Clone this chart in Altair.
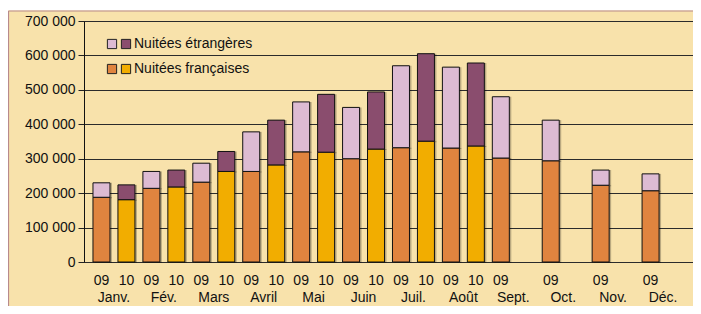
import altair as alt
import pandas as pd

months = ["Janv.", "Fév.", "Mars", "Avril", "Mai", "Juin", "Juil.", "Août",
          "Sept.", "Oct.", "Nov.", "Déc."]
fr_2009 = [188000, 214000, 232000, 263000, 320000, 300000, 332000, 331000,
           302000, 294000, 223000, 207000]
et_2009 = [42000, 49000, 55000, 115000, 145000, 149000, 238000, 235000,
           178000, 118000, 44000, 49000]
fr_2010 = [181000, 218000, 263000, 282000, 319000, 328000, 351000, 337000]
et_2010 = [43000, 49000, 58000, 130000, 168000, 166000, 254000, 241000]
y_ticks = [0, 100000, 200000, 300000, 400000, 500000, 600000, 700000]
legend_labels = ["Nuitées étrangères", "Nuitées françaises"]

colors = {"fr09": "#E0843F", "fr10": "#F2AD00", "et09": "#DDBBD3", "et10": "#8A4D6E"}
BG = "#F8E2AB"
FONT = "Liberation Sans"
FS = 14
W, H = 609, 241

rows = []
for i, m in enumerate(months):
    for j, (yr, fr, et) in enumerate([("09", fr_2009, et_2009), ("10", fr_2010, et_2010)]):
        if i < len(fr):
            slot = 2 * i + j
            rows.append(dict(slot=slot, month=m, year=yr, serie="fr" + yr, y0=0, y1=fr[i]))
            rows.append(dict(slot=slot, month=m, year=yr, serie="et" + yr, y0=fr[i], y1=fr[i] + et[i]))
bars = pd.DataFrame(rows)
year_df = bars[bars.serie.str.startswith("fr")][["slot", "year"]]
month_df = pd.DataFrame({"month": months, "pos": [2 * i + 0.5 for i in range(len(months))]})

xs = alt.Scale(domain=[-0.5, 23.5], nice=False, zero=False)
ys = alt.Scale(domain=[0, 700000], nice=False)
cs = alt.Scale(domain=list(colors.keys()), range=list(colors.values()))

yaxis = alt.Axis(values=y_ticks, grid=True, gridColor="#2b2b2b", gridWidth=1,
                 labelExpr="replace(format(datum.value, ','), ',', ' ')",
                 labelFontSize=FS, labelFont=FONT, labelColor="#111111",
                 labelOverlap=False, tickSize=6, tickColor="#222222", labelPadding=3,
                 domainColor="#111111")

base = alt.Chart(bars)

shadow = base.mark_bar(size=17, color="#000000", opacity=0.25, xOffset=2, yOffset=1).encode(
    x=alt.X("slot:Q", scale=xs, axis=None),
    y=alt.Y("y0:Q", scale=ys, title=None, axis=yaxis),
    y2="y1:Q",
)

bar = base.mark_bar(size=17, stroke="#111111", strokeWidth=1).encode(
    x=alt.X("slot:Q", scale=xs, axis=None),
    y=alt.Y("y0:Q", scale=ys, title=None, axis=yaxis),
    y2="y1:Q",
    color=alt.Color("serie:N", scale=cs, legend=None),
)

year_text = alt.Chart(year_df).mark_text(fontSize=FS, font=FONT, color="#111111",
                                         baseline="alphabetic").encode(
    x=alt.X("slot:Q", scale=xs, axis=None),
    y=alt.value(H + 23),
    text="year:N",
)

month_text = alt.Chart(month_df).mark_text(fontSize=FS, font=FONT, color="#111111",
                                           baseline="alphabetic").encode(
    x=alt.X("pos:Q", scale=xs, axis=None),
    y=alt.value(H + 40),
    text="month:N",
)

# legend (layout only)
leg_sw = pd.DataFrame({
    "px": [28, 42, 28, 42],
    "py": [23, 23, 48, 48],
    "serie": ["et09", "et10", "fr09", "fr10"],
})
leg_tx = pd.DataFrame({"px": [50, 50], "py": [23, 48], "label": legend_labels})

legend_sq = alt.Chart(leg_sw).mark_square(size=85, opacity=1, stroke="#222222", strokeWidth=1).encode(
    x=alt.X("px:Q", scale=None),
    y=alt.Y("py:Q", scale=None),
    color=alt.Color("serie:N", scale=cs, legend=None),
)
legend_txt = alt.Chart(leg_tx).mark_text(align="left", baseline="middle", fontSize=FS,
                                          font=FONT, color="#111111").encode(
    x=alt.X("px:Q", scale=None),
    y=alt.Y("py:Q", scale=None),
    text="label:N",
)

one = pd.DataFrame({"a": [0]})
white_strip = alt.Chart(one).mark_rect(color="white").encode(
    x=alt.value(-80), x2=alt.value(W + 20), y=alt.value(-14), y2=alt.value(-10.5))
top_border = alt.Chart(one).mark_rule(color="#B88A8C", strokeWidth=1.2).encode(
    x=alt.value(-75.5), x2=alt.value(W + 20), y=alt.value(-10))
left_border = alt.Chart(one).mark_rule(color="#B88A8C", strokeWidth=1.2).encode(
    x=alt.value(-75.5), y=alt.value(-10), y2=alt.value(H + 60))

chart = alt.layer(
    white_strip, top_border, left_border, shadow, bar, year_text, month_text,
    legend_sq, legend_txt
).properties(
    width=W, height=H,
    autosize=alt.AutoSizeParams(type="none"),
    padding={"left": 76, "top": 13, "right": 0, "bottom": 44},
    background=BG,
).configure_view(stroke="#333333", strokeWidth=1)

chart.save("out.html", embed_options={"renderer": "svg", "actions": False})
